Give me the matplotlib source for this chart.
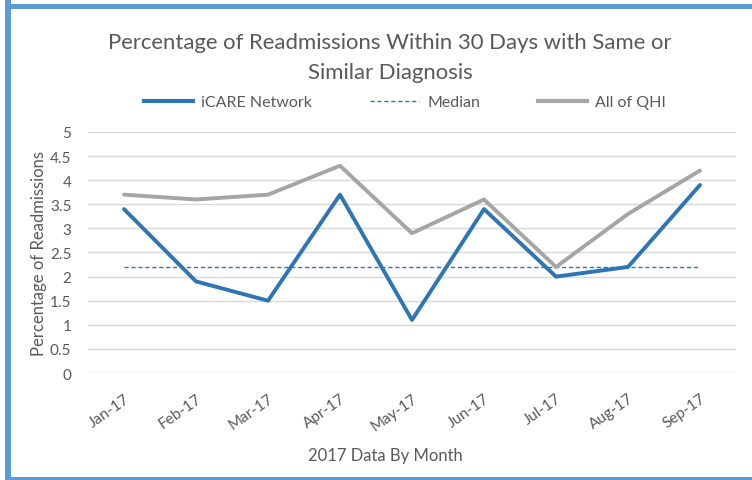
import matplotlib
matplotlib.use("Agg")
import matplotlib.pyplot as plt
from matplotlib.patches import Rectangle
from matplotlib.lines import Line2D
from matplotlib.transforms import ScaledTranslation

months = ["Jan-17", "Feb-17", "Mar-17", "Apr-17", "May-17", "Jun-17", "Jul-17", "Aug-17", "Sep-17"]
icare = [3.4, 1.9, 1.5, 3.7, 1.1, 3.4, 2.0, 2.2, 3.9]
qhi = [3.7, 3.6, 3.7, 4.3, 2.9, 3.6, 2.2, 3.3, 4.2]
median = [2.2] * 9
yticks = [0, 0.5, 1, 1.5, 2, 2.5, 3, 3.5, 4, 4.5, 5]
ytick_labels = ["0", "0.5", "1", "1.5", "2", "2.5", "3", "3.5", "4", "4.5", "5"]

plt.rcParams['font.family'] = ['Lato', 'DejaVu Sans']
text_c = "#595959"
blue = "#2E75B6"
grey = "#A5A5A5"
border = "#5B9BD5"

fig = plt.figure(figsize=(7.52, 4.81), dpi=100)
W, H = 752, 481

def fx(px):
    return px / W
def fy(py):
    return 1 - py / H

# border frame
fig.patches.append(Rectangle((fx(5), fy(481)), fx(6), 481 / H, transform=fig.transFigure,
                             facecolor=border, edgecolor='none', zorder=0))
fig.patches.append(Rectangle((fx(5), fy(10)), 1, 5 / H, transform=fig.transFigure,
                             facecolor=border, edgecolor='none', zorder=0))
fig.patches.append(Rectangle((fx(5), 0), 1, 3.5 / H, transform=fig.transFigure,
                             facecolor=border, edgecolor='none', zorder=0))

ax = fig.add_axes([fx(88), fy(374), fx(736) - fx(88), fy(133) - fy(374)])
x = list(range(len(months)))
ax.plot(x, qhi, color=grey, lw=2.8, solid_capstyle='round', zorder=3)
ax.plot(x, icare, color=blue, lw=2.8, solid_capstyle='round', zorder=4)
ax.plot(x, median, color=blue, lw=1, ls=(0, (3, 2)), zorder=2)

ax.set_xlim(-0.5, len(months) - 0.5)
ax.set_ylim(0, 5)
ax.set_yticks(yticks)
ax.set_yticklabels(ytick_labels)
ax.set_xticks(x)
ax.set_xticklabels(months, rotation=35, ha='right', rotation_mode='anchor')
off = ScaledTranslation(-8 / 100, 0, fig.dpi_scale_trans)
for lab in ax.get_xticklabels():
    lab.set_transform(lab.get_transform() + off)
ax.grid(axis='y', color='#D9D9D9', lw=1)
ax.set_axisbelow(True)
for s in ax.spines.values():
    s.set_visible(False)
ax.tick_params(axis='both', length=0, labelsize=11, colors=text_c)
ax.tick_params(axis='x', pad=13)
ax.tick_params(axis='y', pad=12)

ax.set_ylabel("Percentage of Readmissions", fontsize=12, color=text_c)
ax.yaxis.set_label_coords(-0.064, 0.5)
fig.text(fx(385), fy(456), "2017 Data By Month", fontsize=12, color=text_c, ha='center', va='center')

fig.text(fx(390), fy(43), "Percentage of Readmissions Within 30 Days with Same or", fontsize=15.9,
         color=text_c, ha='center', va='center')
fig.text(fx(390), fy(73), "Similar Diagnosis", fontsize=15.9, color=text_c, ha='center', va='center')

handles = [Line2D([], [], color=blue, lw=3),
           Line2D([], [], color=blue, lw=1, ls=(0, (3, 2))),
           Line2D([], [], color=grey, lw=3)]
fig.legend(handles, ["iCARE Network", "Median", "All of QHI"], loc='center',
           bbox_to_anchor=(fx(405), fy(103)), ncol=3, frameon=False, fontsize=11.5,
           labelcolor=text_c, handlelength=3.1, columnspacing=3.6, handletextpad=0.5)

fig.savefig("out.png", dpi=100)
